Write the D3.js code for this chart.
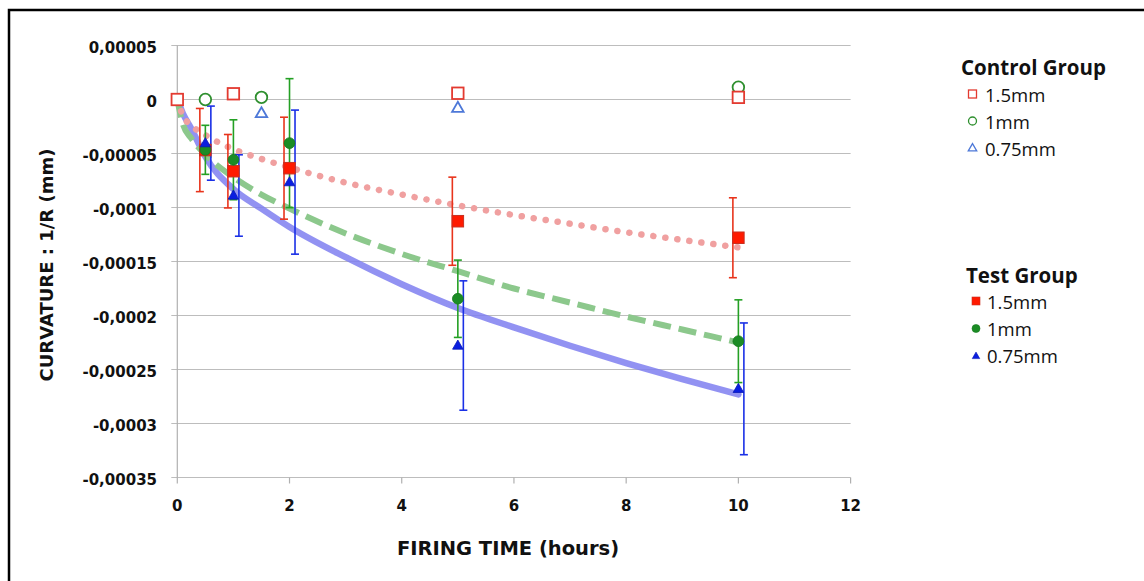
<!DOCTYPE html>
<html>
<head>
<meta charset="utf-8">
<script src="https://cdn.jsdelivr.net/npm/d3@7"></script>
<style>
  html, body { margin: 0; padding: 0; background: #fff; }
  svg { display: block; }
</style>
</head>
<body>
<svg id="chart" width="1144" height="581"></svg>
<script>
// ---------- data ----------
const xTicks = [0, 2, 4, 6, 8, 10, 12];
const yTicks = [0.00005, 0, -0.00005, -0.0001, -0.00015, -0.0002, -0.00025, -0.0003, -0.00035];
const yTickLabels = ["0,00005", "0", "-0,00005", "-0,0001", "-0,00015", "-0,0002", "-0,00025", "-0,0003", "-0,00035"];

// Control group (open markers)
const ctrl15X = [0, 1, 5, 10];
const ctrl15Y = [0, 0.0000053, 0.0000058, 0.000002];
const ctrl1X = [0.5, 1.5, 10];
const ctrl1Y = [0, 0.000002, 0.0000114];
const ctrl075X = [1.5, 5];
const ctrl075Y = [-0.0000127, -0.0000077];

// Test group (filled markers with error bars)
const testX = [0.5, 1, 2, 5, 10];
const test15Y = [-0.0000468, -0.0000664, -0.0000636, -0.0001127, -0.000128];
const test15Err = [0.0000385, 0.000034, 0.0000472, 0.0000408, 0.000037];
const test1Y = [-0.0000466, -0.0000558, -0.0000404, -0.0001845, -0.0002238];
const test1Err = [0.0000227, 0.000037, 0.0000597, 0.0000358, 0.0000383];
const test075Y = [-0.0000404, -0.0000889, -0.0000765, -0.0002278, -0.0002679];
const test075Err = [0.0000343, 0.0000377, 0.0000667, 0.0000599, 0.000061];

// Trend lines
const trendX = [0, 0.1, 0.25, 0.5, 1, 1.5, 2, 3, 4, 5, 6, 7, 8, 9, 10];
const trend15Y = [0, -0.000015, -0.000024, -0.000033, -0.000046, -0.000055, -0.000063, -0.000077, -0.000088, -0.000098, -0.000107, -0.000115, -0.000123, -0.00013, -0.000137];
const trend1Y = [0, -0.000023, -0.000036, -0.000051, -0.000072, -0.000088, -0.000101, -0.000124, -0.000143, -0.000159, -0.000175, -0.000188, -0.000201, -0.000213, -0.000225];
const trend075Y = [0, -0.000013, -0.000027, -0.000053, -0.000083, -0.000101, -0.000118, -0.000146, -0.000171, -0.000193, -0.000211, -0.000228, -0.000244, -0.000259, -0.000273];

// ---------- drawing ----------
const svg = d3.select("#chart");
const x = d3.scaleLinear().domain([0, 12]).range([177.3, 850.6]);
const y = d3.scaleLinear().domain([-0.00035, 0.00005]).range([477.5, 45.5]);

const axisFont = "'DejaVu Sans', sans-serif";
const legendFont = "'Open Sans', sans-serif";

// outer frame
svg.append("rect").attr("x", 9).attr("y", 10).attr("width", 1160).attr("height", 620)
  .attr("fill", "none").attr("stroke", "#000").attr("stroke-width", 2.5);

// gridlines
svg.append("g").selectAll("line").data(yTicks).join("line")
  .attr("x1", x(0) - 6).attr("x2", x(12))
  .attr("y1", d => y(d)).attr("y2", d => y(d))
  .attr("stroke", "#bdbdbd").attr("stroke-width", 1.2);

// y axis line
svg.append("line").attr("x1", x(0)).attr("x2", x(0)).attr("y1", y(0.00005)).attr("y2", y(-0.00035))
  .attr("stroke", "#b0b0b0").attr("stroke-width", 1.2);
// x tick marks
svg.append("g").selectAll("line").data(xTicks).join("line")
  .attr("x1", d => x(d)).attr("x2", d => x(d))
  .attr("y1", y(-0.00035)).attr("y2", y(-0.00035) + 6)
  .attr("stroke", "#b0b0b0").attr("stroke-width", 1.2);

// y tick labels
svg.append("g").selectAll("text").data(yTicks).join("text")
  .attr("x", 157).attr("y", d => y(d) + 7.8)
  .attr("text-anchor", "end")
  .attr("font-family", axisFont).attr("font-weight", "bold").attr("font-size", 15)
  .attr("fill", "#111")
  .text((d, i) => yTickLabels[i]);

// x tick labels
svg.append("g").selectAll("text").data(xTicks).join("text")
  .attr("x", d => x(d)).attr("y", 511)
  .attr("text-anchor", "middle")
  .attr("font-family", axisFont).attr("font-weight", "bold").attr("font-size", 15)
  .attr("fill", "#111")
  .text(d => d);

// axis titles
svg.append("text").attr("x", 508).attr("y", 555).attr("text-anchor", "middle")
  .attr("font-family", axisFont).attr("font-weight", "bold").attr("font-size", 19.5)
  .attr("fill", "#111").text("FIRING TIME (hours)");
svg.append("text").attr("transform", "translate(53,265) rotate(-90)").attr("text-anchor", "middle")
  .attr("font-family", axisFont).attr("font-weight", "bold").attr("font-size", 18)
  .attr("fill", "#111").text("CURVATURE : 1/R (mm)");

// trend lines
const line = d3.line().x(d => x(d[0])).y(d => y(d[1])).curve(d3.curveMonotoneX);
svg.append("path").datum(trendX.map((v, i) => [v, trend075Y[i]])).attr("d", line)
  .attr("fill", "none").attr("stroke", "#7f7ff0").attr("stroke-opacity", 0.85).attr("stroke-width", 6.5)
  .attr("stroke-linecap", "round");
svg.append("path").datum(trendX.map((v, i) => [v, trend1Y[i]])).attr("d", line)
  .attr("fill", "none").attr("stroke", "#8cc88c").attr("stroke-width", 6)
  .attr("stroke-dasharray", "18 8");
svg.append("path").datum(trendX.map((v, i) => [v, trend15Y[i]])).attr("d", line)
  .attr("fill", "none").attr("stroke", "#f0a0a0").attr("stroke-width", 6.5)
  .attr("stroke-linecap", "round").attr("stroke-dasharray", "0.1 12");

// error bars
function errorBars(vals, errs, color, dx) {
  const g = svg.append("g").attr("stroke", color).attr("stroke-width", 1.6);
  testX.forEach((xv, i) => {
    const cx = x(xv) + dx;
    const y1 = y(vals[i] + errs[i]), y2 = y(vals[i] - errs[i]);
    g.append("line").attr("x1", cx).attr("x2", cx).attr("y1", y1).attr("y2", y2);
    g.append("line").attr("x1", cx - 4).attr("x2", cx + 4).attr("y1", y1).attr("y2", y1);
    g.append("line").attr("x1", cx - 4).attr("x2", cx + 4).attr("y1", y2).attr("y2", y2);
  });
}
errorBars(test15Y, test15Err, "#e8341c", -5.5);
errorBars(test1Y, test1Err, "#24a024", 0);
errorBars(test075Y, test075Err, "#1a30e6", 5.5);

// marker helpers
function square(g, cx, cy, s, fill, stroke, sw) {
  g.append("rect").attr("x", cx - s / 2).attr("y", cy - s / 2).attr("width", s).attr("height", s)
    .attr("fill", fill).attr("stroke", stroke).attr("stroke-width", sw);
}
function circle(g, cx, cy, r, fill, stroke, sw) {
  g.append("circle").attr("cx", cx).attr("cy", cy).attr("r", r)
    .attr("fill", fill).attr("stroke", stroke).attr("stroke-width", sw);
}
function triangle(g, cx, cy, s, fill, stroke, sw) {
  const h = s * 0.87;
  g.append("path").attr("d", `M${cx},${cy - h * 0.6}L${cx + s / 2},${cy + h * 0.4}L${cx - s / 2},${cy + h * 0.4}Z`)
    .attr("fill", fill).attr("stroke", stroke).attr("stroke-width", sw).attr("stroke-linejoin", "miter");
}

// control markers
const gc = svg.append("g");
ctrl1X.forEach((v, i) => circle(gc, x(v), y(ctrl1Y[i]), 5.8, "#fff", "#2e8f2e", 1.8));
ctrl075X.forEach((v, i) => triangle(gc, x(v), y(ctrl075Y[i]), 11.5, "#fff", "#4d78d8", 1.8));
ctrl15X.forEach((v, i) => square(gc, x(v), y(ctrl15Y[i]), 11.5, "#fff", "#e33a30", 1.8));

// test markers
const gt = svg.append("g");
testX.forEach((v, i) => square(gt, x(v), y(test15Y[i]), 11.5, "#ff1a00", "#c83020", 1));
testX.forEach((v, i) => circle(gt, x(v), y(test1Y[i]), 5.4, "#1b8c25", "#147a1c", 0.8));
testX.forEach((v, i) => triangle(gt, x(v), y(test075Y[i]), 10.5, "#0a1ee0", "#0818b8", 0.8));

// legend
const lg = svg.append("g").attr("font-family", legendFont).attr("fill", "#111");
lg.append("text").attr("x", 961).attr("y", 75).attr("font-weight", "bold").attr("font-size", 20.5).text("Control Group");
lg.append("text").attr("x", 966).attr("y", 283).attr("font-weight", "bold").attr("font-size", 20.5).text("Test Group");
const ctrlLabels = ["1.5mm", "1mm", "0.75mm"];
const testLabels = ["1.5mm", "1mm", "0.75mm"];
const ctrlRows = [102, 129, 156];
const testRows = [309, 336, 363];
ctrlLabels.forEach((t, i) => lg.append("text").attr("x", 985).attr("y", ctrlRows[i]).attr("font-size", 18.5).text(t));
testLabels.forEach((t, i) => lg.append("text").attr("x", 987).attr("y", testRows[i]).attr("font-size", 18.5).text(t));
square(lg, 972.5, ctrlRows[0] - 8, 8, "#fff", "#e33a30", 1.3);
circle(lg, 972.5, ctrlRows[1] - 8, 4, "#fff", "#2e8f2e", 1.3);
triangle(lg, 972.5, ctrlRows[2] - 8, 8.5, "#fff", "#4d78d8", 1.3);
square(lg, 976, testRows[0] - 8, 8, "#ff1a00", "#c83020", 0.6);
circle(lg, 976, testRows[1] - 7.5, 4, "#1b8c25", "#147a1c", 0.6);
triangle(lg, 976, testRows[2] - 7, 7.5, "#0a1ee0", "#0818b8", 0.6);
</script>
</body>
</html>
